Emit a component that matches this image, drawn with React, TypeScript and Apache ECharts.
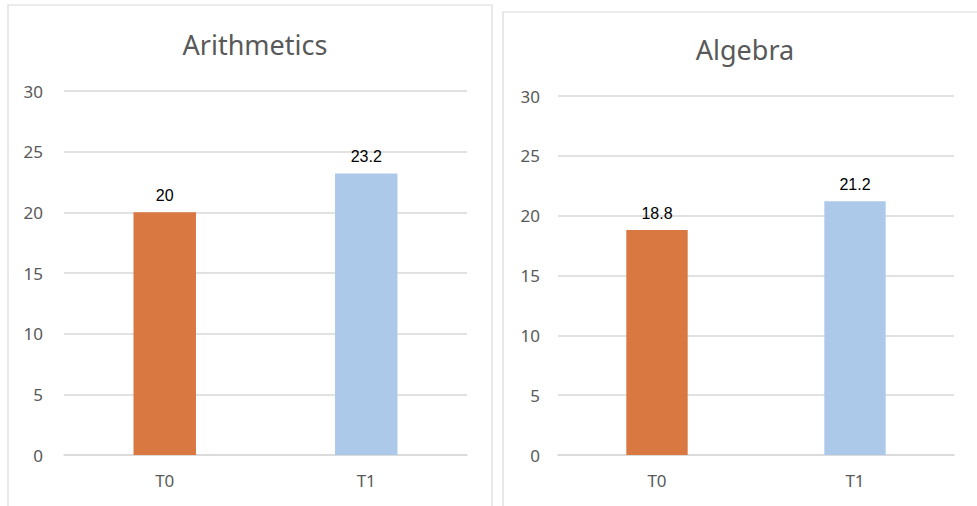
import React, { useEffect, useRef } from "react";
import * as echarts from "echarts";

const categories = ["T0", "T1"];
const arithmeticsValues = [20, 23.2];
const algebraValues = [18.8, 21.2];
const titles = ["Arithmetics", "Algebra"];
const barColors = ["#D97841", "#ADC9E9"];

export default function App() {
  const ref = useRef<HTMLDivElement>(null);
  useEffect(() => {
    if (!ref.current) return;
    const chart = echarts.init(ref.current, undefined, { renderer: "svg" });
    const axisLabel = { color: "#595959", fontSize: 17, fontFamily: "Noto Sans" };
    const mkY = (gi: number, margin: number) => ({
      type: "value",
      gridIndex: gi,
      min: 0,
      max: 30,
      interval: 5,
      axisLine: { show: false },
      axisTick: { show: false },
      splitLine: { lineStyle: { color: "#D9D9D9", width: 1.5 } },
      axisLabel: { ...axisLabel, margin },
    });
    const mkX = (gi: number) => ({
      type: "category",
      gridIndex: gi,
      data: categories,
      axisLine: { lineStyle: { color: "#D9D9D9", width: 1.5 } },
      axisTick: { show: false },
      axisLabel: { ...axisLabel, margin: 17 },
    });
    const mkSeries = (gi: number, vals: number[]) => ({
      type: "bar",
      xAxisIndex: gi,
      yAxisIndex: gi,
      barWidth: "31%",
      data: vals.map((v, i) => ({ value: v, itemStyle: { color: barColors[i] } })),
      label: {
        show: true,
        position: "top",
        distance: 9,
        color: "#000",
        fontSize: 16,
        fontFamily: "Liberation Sans",
      },
    });
    chart.setOption({
      animation: false,
      backgroundColor: "#fff",
      graphic: [
        { type: "rect", shape: { x: 8, y: 5, width: 484, height: 520 }, style: { fill: "none", stroke: "#D9D9D9", lineWidth: 1.2 } },
        { type: "rect", shape: { x: 503, y: 12, width: 490, height: 520 }, style: { fill: "none", stroke: "#D9D9D9", lineWidth: 1.2 } },
      ],
      title: [
        { text: titles[0], left: 250, top: 26, textAlign: "center", textStyle: { color: "#595959", fontSize: 27, fontWeight: "normal", fontFamily: "Noto Sans" } },
        { text: titles[1], left: 740, top: 31, textAlign: "center", textStyle: { color: "#595959", fontSize: 27, fontWeight: "normal", fontFamily: "Noto Sans" } },
      ],
      grid: [
        { left: 64, right: 510, top: 91, bottom: 51 },
        { left: 558, right: 23, top: 96, bottom: 51 },
      ],
      xAxis: [mkX(0), mkX(1)],
      yAxis: [mkY(0, 21), mkY(1, 18)],
      series: [mkSeries(0, arithmeticsValues), mkSeries(1, algebraValues)],
    });
    return () => chart.dispose();
  }, []);
  return <div ref={ref} style={{ position: "fixed", left: 0, top: 0, width: 977, height: 506 }} />;
}
